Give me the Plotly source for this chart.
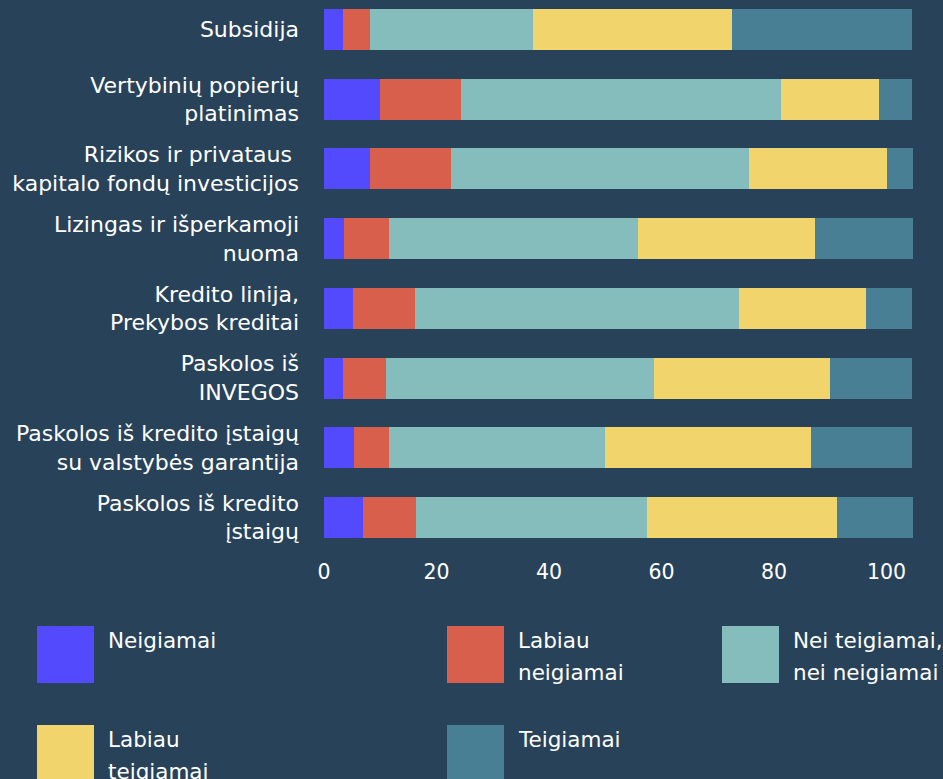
import plotly.graph_objects as go

categories = [
    "Subsidija",
    "Vertybinių popierių<br>platinimas",
    "Rizikos ir privataus <br>kapitalo fondų investicijos",
    "Lizingas ir išperkamoji<br>nuoma",
    "Kredito linija,<br>Prekybos kreditai",
    "Paskolos iš<br>INVEGOS",
    "Paskolos iš kredito įstaigų<br>su valstybės garantija",
    "Paskolos iš kredito<br>įstaigų",
]

series_names = ["Neigiamai", "Labiau neigiamai", "Nei teigiamai, nei neigiamai",
                "Labiau teigiamai", "Teigiamai"]
legend_labels = ["Neigiamai", "Labiau<br>neigiamai", "Nei teigiamai,<br>nei neigiamai",
                 "Labiau<br>teigiamai", "Teigiamai"]

neigiamai = [3.4, 10.0, 8.2, 3.6, 5.2, 3.4, 5.3, 6.9]
labiau_neigiamai = [4.8, 14.4, 14.4, 8.0, 11.0, 7.6, 6.2, 9.4]
nei_nei = [29.0, 56.9, 53.0, 44.3, 57.6, 47.6, 38.4, 41.1]
labiau_teigiamai = [35.4, 17.4, 24.4, 31.3, 22.6, 31.3, 36.6, 33.8]
teigiamai = [32.0, 5.9, 4.8, 17.6, 8.2, 14.6, 18.1, 13.5]

tick_vals = [0, 20, 40, 60, 80, 100]

colors = ["#544AFD", "#D75F4B", "#85BDBC", "#F2D46C", "#487F94"]
bg = "#284359"

W, H = 943, 779
ML, MR, MT, MB = 324, 30, 0, 222
PW, PH = W - ML - MR, H - MT - MB

values = [neigiamai, labiau_neigiamai, nei_nei, labiau_teigiamai, teigiamai]

fig = go.Figure()
for name, vals, col in zip(series_names, values, colors):
    fig.add_trace(go.Bar(
        y=categories, x=vals, name=name, orientation="h",
        marker=dict(color=col, line=dict(width=0)),
        width=0.588, showlegend=False,
    ))

top_c, bot_c = 29.5, 517.5
step = (bot_c - top_c) / 7
y_top = -top_c / step
y_bot = (PH - top_c) / step

FONT = "DejaVu Sans, sans-serif"

fig.update_layout(
    width=W, height=H,
    margin=dict(l=ML, r=MR, t=MT, b=MB),
    barmode="stack",
    paper_bgcolor=bg, plot_bgcolor=bg,
    font=dict(family=FONT, color="white", size=21),
    xaxis=dict(range=[0, PW / 5.625], tickvals=tick_vals, showgrid=False,
               zeroline=False, showline=False, ticks="",
               tickfont=dict(size=20.5)),
    yaxis=dict(range=[y_bot, y_top], showgrid=False, zeroline=False,
               showline=False, ticks="", ticklabelstandoff=24,
               tickfont=dict(size=22)),
)

def px(x):
    return (x - ML) / PW

def py(y):
    return (MT + PH - y) / PH

sq_pos = [(37, 626), (447, 626), (722, 626), (37, 725), (447, 725)]
line_offsets = [14.5, 46]
for (sx, sy), col, lab in zip(sq_pos, colors, legend_labels):
    fig.add_shape(type="rect", xref="paper", yref="paper",
                  x0=px(sx), x1=px(sx + 57), y0=py(sy + 57), y1=py(sy),
                  fillcolor=col, line=dict(width=0))
    for off, line in zip(line_offsets, lab.split("<br>")):
        fig.add_annotation(xref="paper", yref="paper", x=px(sx + 69), y=py(sy + off),
                           xanchor="left", yanchor="middle", align="left",
                           text=line, showarrow=False,
                           font=dict(family=FONT, size=21.5, color="white"))

fig.write_html("out.html", config={"displayModeBar": False},
               post_script="document.body.style.margin='0';document.body.style.overflow='hidden';")
